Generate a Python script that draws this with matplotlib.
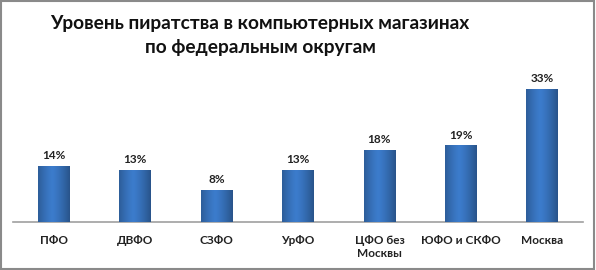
import matplotlib
matplotlib.use("Agg")
import matplotlib.pyplot as plt
import numpy as np
from matplotlib.patches import Rectangle

categories = ["ПФО", "ДВФО", "СЗФО", "УрФО", "ЦФО без\nМосквы", "ЮФО и СКФО", "Москва"]
values = [14, 13, 8, 13, 18, 19, 33]
labels = ["14%", "13%", "8%", "13%", "18%", "19%", "33%"]

plt.rcParams['font.family'] = ['Lato', 'DejaVu Sans']

fig = plt.figure(figsize=(5.96, 2.70), dpi=100)
fig.patch.set_facecolor("white")
fig.add_artist(Rectangle((0.002, 0.004), 0.995, 0.992, transform=fig.transFigure,
                         fill=False, edgecolor="#8a8a8a", linewidth=1.5))

ax = fig.add_axes([13/596, 48/270, 570/596, 145/270])
x = np.arange(len(categories))
bars = ax.bar(x, values, width=0.39, color="#3a78c8", edgecolor="none", zorder=2)

# horizontal gradient shading on bars
grad = np.linspace(0, 1, 64)
shade = 1 - 0.35 * np.abs(grad - 0.45) ** 1.3 * 2
img = np.zeros((1, 64, 3))
base = np.array([0x3c, 0x7c, 0xcc]) / 255
for i in range(64):
    img[0, i] = base * shade[i]
for b in bars:
    x0, w, h = b.get_x(), b.get_width(), b.get_height()
    im = ax.imshow(img, extent=[x0, x0 + w, 0, h], aspect="auto", zorder=3)
    im.set_clip_path(b)

for xi, v, lab in zip(x, values, labels):
    ax.text(xi, v + 1.2, lab, ha="center", va="bottom", fontsize=8.5,
            fontweight="bold", color="#222222")

ax.set_xlim(-0.5, len(categories) - 0.5)
ax.set_ylim(0, 36)
ax.set_xticks(x)
ax.set_xticklabels(categories, fontsize=8.5, fontweight="bold", color="#222222",
                   linespacing=1.3)
ax.tick_params(axis="x", length=0, pad=9)
ax.set_yticks([])
for s in ["top", "right", "left"]:
    ax.spines[s].set_visible(False)
ax.spines["bottom"].set_color("#a0a0a0")
ax.spines["bottom"].set_linewidth(1.2)

fig.text(260/596, 1 - 36/270, "Уровень пиратства в компьютерных магазинах\nпо федеральным округам",
         ha="center", va="center", fontsize=13.8, fontweight="bold", color="#111111",
         linespacing=1.5)

fig.savefig("out.png", dpi=100, facecolor="white")
